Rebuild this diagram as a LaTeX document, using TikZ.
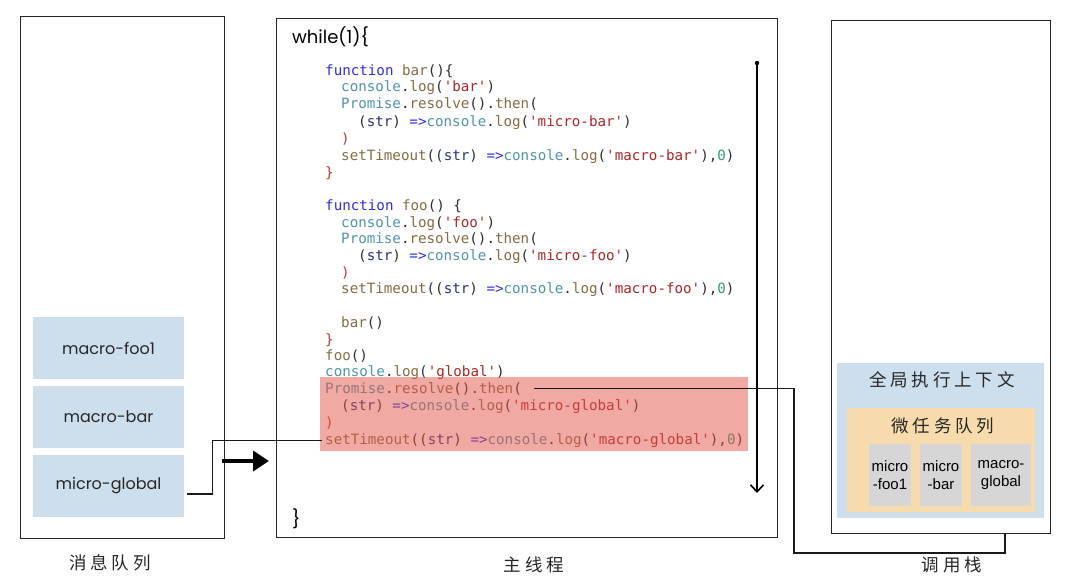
\documentclass[tikz,border=0pt]{standalone}
\usepackage{fontspec}
\usetikzlibrary{arrows.meta}
\setmainfont{Poppins}
\newfontfamily\cjk[LetterSpace=22]{Noto Sans CJK SC}
\newfontfamily\codefont[Ligatures=TeXOff]{DejaVu Sans Mono}
\newfontfamily\boxfont{Liberation Sans}
\definecolor{qblue}{RGB}{205,222,237}
\definecolor{qorange}{RGB}{247,219,172}
\definecolor{qgray}{RGB}{214,214,214}
\definecolor{hlred}{RGB}{226,84,72}
\definecolor{jskw}{RGB}{45,45,235}
\definecolor{jsfn}{RGB}{130,108,66}
\definecolor{jsobj}{RGB}{78,148,170}
\definecolor{jsstr}{RGB}{172,38,38}
\definecolor{jsarg}{RGB}{40,48,118}
\definecolor{jsnum}{RGB}{52,156,112}
\definecolor{jsp}{RGB}{45,45,45}
\definecolor{jsred}{RGB}{190,55,50}
\newcommand\jskw[1]{\textcolor{jskw}{#1}}
\newcommand\jsfn[1]{\textcolor{jsfn}{#1}}
\newcommand\jsobj[1]{\textcolor{jsobj}{#1}}
\newcommand\jsstr[1]{\textcolor{jsstr}{#1}}
\newcommand\jsarg[1]{\textcolor{jsarg}{#1}}
\newcommand\jsnum[1]{\textcolor{jsnum}{#1}}
\newcommand\jsp[1]{\textcolor{jsp}{#1}}
\newcommand\jsred[1]{\textcolor{jsred}{#1}}
\newcommand\clog[1]{\jsobj{console}\jsp{.}\jsfn{log}\jsp{(}\jsstr{'#1'}\jsp{)}}
\newcommand\strfn{\jsp{(}\jsarg{str}\jsp{)} \jskw{=>}}
\newcommand\thenline{\jsobj{Promise}\jsp{.}\jsfn{resolve}\jsp{().}\jsfn{then}\jsp{(}}
\newcommand\timeline[1]{\jsfn{setTimeout}\jsp{(}\strfn\clog{#1}\jsp{,}\jsnum{0}\jsp{)}}
\begin{document}
\begin{tikzpicture}[x=1pt,y=-1pt,
	panel/.style={draw=black!85,line width=1.2pt,anchor=north west,inner sep=0pt},
	msgbox/.style={fill=qblue,minimum width=151pt,minimum height=62pt,font=\fontsize{16}{18}\selectfont,text=black!85},
	taskbox/.style={fill=qgray,minimum height=62pt,inner sep=0pt,align=center,font=\boxfont\fontsize{15}{18}\selectfont},
	code/.style={anchor=base west,inner sep=0pt,font=\codefont\fontsize{14.2}{17}\selectfont},
	cjklabel/.style={font=\cjk\fontsize{17.5}{19}\selectfont,text=black!85},
	link/.style={line width=1.1pt,black!90}]
	\useasboundingbox (0,0) rectangle (1074,586);
	\node[panel,minimum width=204pt,minimum height=522pt] (queue) at (20,16) {};
	\node[panel,minimum width=501pt,minimum height=519pt] (main) at (276,18) {};
	\node[panel,minimum width=219pt,minimum height=513pt] (stack) at (831,20) {};
	\node[msgbox] (foo1) at (108.5,348) {macro-foo1};
	\node[msgbox] (mbar) at (108.5,417) {macro-bar};
	\node[msgbox] (mglobal) at (108.5,486) {micro-global};
	\node[fill=qblue,anchor=north west,inner sep=0pt,minimum width=207pt,minimum height=155pt] (ctx) at (837,363) {};
	\node[fill=qorange,anchor=north west,inner sep=0pt,minimum width=188pt,minimum height=104pt] (microq) at (847,408) {};
	\node[taskbox,minimum width=42pt] (t1) at (890,475) {micro\\-foo1};
	\node[taskbox,minimum width=42pt] (t2) at (941,475) {micro\\-bar};
	\node[taskbox,minimum width=60pt] (t3) at (1001,475) {macro-\\global};
	\node[cjklabel] (ctxname) at (942,380) {全局执行上下文};
	\node[cjklabel] (mqname) at (943,426) {微任务队列};
	\node[cjklabel] (qname) at (110,563) {消息队列};
	\node[cjklabel] (mname) at (534,565) {主线程};
	\node[cjklabel] (sname) at (952,565) {调用栈};
	\node[anchor=base west,inner sep=0pt,font=\fontsize{18}{20}\selectfont] (loop) at (292,44) {while(1)\{};
	\node[anchor=base west,inner sep=0pt,font=\fontsize{18}{20}\selectfont] (loopend) at (292,525) {\}};
	\node[code] (l1) at (325,75) {\jskw{function} \jsfn{bar}\jsp{()\{}};
	\node[code] (l2) at (341,92) {\clog{bar}};
	\node[code] (l3) at (341,109) {\thenline};
	\node[code] (l4) at (358,126) {\strfn\clog{micro-bar}};
	\node[code] (l5) at (341,143) {\jsred{)}};
	\node[code] (l6) at (341,160) {\timeline{macro-bar}};
	\node[code] (l7) at (325,177) {\jsred{\}}};
	\node[code] (l8) at (325,210) {\jskw{function} \jsfn{foo}\jsp{() \{}};
	\node[code] (l9) at (341,227) {\clog{foo}};
	\node[code] (l10) at (341,243) {\thenline};
	\node[code] (l11) at (358,260) {\strfn\clog{micro-foo}};
	\node[code] (l12) at (341,277) {\jsred{)}};
	\node[code] (l13) at (341,293) {\timeline{macro-foo}};
	\node[code] (l14) at (341,327) {\jsfn{bar}\jsp{()}};
	\node[code] (l15) at (325,344) {\jsred{\}}};
	\node[code] (l16) at (325,360) {\jsfn{foo}\jsp{()}};
	\node[code] (l17) at (325,376) {\clog{global}};
	\node[code] (l18) at (325,393) {\thenline};
	\node[code] (l19) at (341,410) {\strfn\clog{micro-global}};
	\node[code] (l20) at (325,427) {\jsred{)}};
	\node[code] (l21) at (325,444) {\timeline{macro-global}};
	\node[fill=hlred,fill opacity=0.5,anchor=north west,inner sep=0pt,minimum width=428pt,minimum height=74pt] (hl) at (320,377) {};
	\coordinate (flowtop) at (757,63);
	\coordinate (flowend) at (757,493);
	\fill (flowtop) circle (2.2pt);
	\draw[line width=1.6pt,-{Straight Barb[length=7pt,width=13pt]}] (flowtop) -- (flowend);
	\coordinate (pushs) at (222,461);
	\coordinate (pushe) at (269,461);
	\draw[line width=3.5pt,-{Triangle[length=16pt,width=20pt]}] (pushs) -- (pushe);
	\draw[link] ([xshift=3pt,yshift=-8pt]mglobal.east) -- ++(25,0) |- ([xshift=-3pt]l21.west);
	\coordinate (bend) at (794,553);
	\coordinate (stackfoot) at (1005,533);
	\draw[link] ([xshift=12pt]l18.east) -| (bend) -| (stackfoot);
\end{tikzpicture}
\end{document}
